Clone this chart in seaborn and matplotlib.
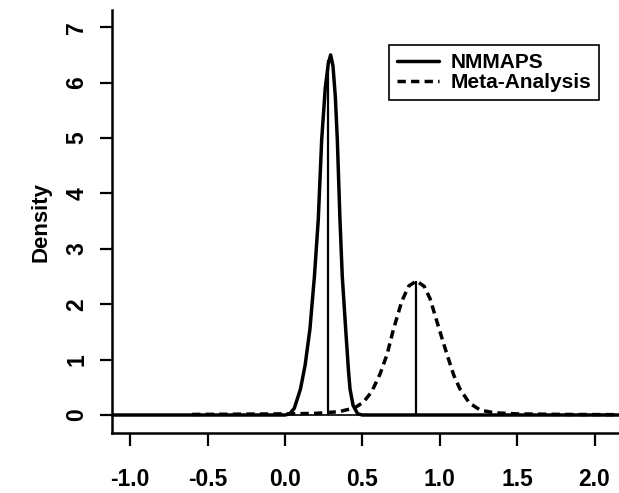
import numpy as np
import pandas as pd
import matplotlib
matplotlib.use("Agg")
import matplotlib.pyplot as plt
import seaborn as sns

# ---- data ----
nmmaps_x = [-1.2, -0.5, 0.0, 0.03, 0.06, 0.10, 0.13, 0.161, 0.19, 0.215, 0.237, 0.26, 0.28,
            0.295, 0.31, 0.325, 0.338, 0.355, 0.37, 0.392, 0.41, 0.42, 0.44, 0.47, 0.50, 1.0, 2.2]
nmmaps_y = [0.0, 0.0, 0.0, 0.02, 0.12, 0.47, 0.9, 1.55, 2.5, 3.53, 4.97, 5.9, 6.35,
            6.5, 6.3, 5.75, 4.97, 3.53, 2.5, 1.55, 0.8, 0.47, 0.17, 0.02, 0.0, 0.0, 0.0]

meta_x = [-0.6, -0.3, 0.0, 0.2, 0.35, 0.45, 0.506, 0.56, 0.614, 0.66, 0.70, 0.754, 0.80,
          0.85, 0.90, 0.937, 0.98, 1.02, 1.055, 1.09, 1.13, 1.19, 1.26, 1.35, 1.5, 1.8, 2.2]
meta_y = [0.01, 0.015, 0.02, 0.03, 0.06, 0.13, 0.23, 0.42, 0.74, 1.1, 1.54, 2.05, 2.33,
          2.42, 2.32, 2.1, 1.7, 1.33, 1.02, 0.72, 0.47, 0.22, 0.09, 0.04, 0.02, 0.01, 0.005]

means = [0.275, 0.848]
mean_heights = [6.4, 2.42]

series_names = ["NMMAPS", "Meta-Analysis"]
x_ticks = [-1.0, -0.5, 0.0, 0.5, 1.0, 1.5, 2.0]
x_tick_labels = ["-1.0", "-0.5", "0.0", "0.5", "1.0", "1.5", "2.0"]
y_ticks = [0, 1, 2, 3, 4, 5, 6, 7]
y_label = "Density"

df = pd.concat([
    pd.DataFrame({"x": nmmaps_x, "y": nmmaps_y, "series": series_names[0]}),
    pd.DataFrame({"x": meta_x, "y": meta_y, "series": series_names[1]}),
])

sns.set_style("ticks")
plt.rcParams["font.family"] = ["Liberation Sans", "DejaVu Sans"]
plt.rcParams["text.color"] = "black"
plt.rcParams["axes.labelcolor"] = "black"
plt.rcParams["xtick.color"] = "black"
plt.rcParams["ytick.color"] = "black"

fig = plt.figure(figsize=(6.19, 4.93), dpi=100)
ax = fig.add_axes([112 / 619, (493 - 433) / 493, 1 - 112 / 619, (433 - 10) / 493])

sns.lineplot(data=df[df.series == series_names[0]], x="x", y="y", ax=ax, color="black",
             linewidth=2.5, estimator=None, sort=False, label=series_names[0])
sns.lineplot(data=df[df.series == series_names[1]], x="x", y="y", ax=ax, color="black",
             linewidth=2.5, estimator=None, sort=False, label=series_names[1],
             linestyle=(0, (2.4, 1.5)))

ax.axhline(0, color="black", linewidth=1.2, zorder=1)
ax.vlines(means, 0, mean_heights, color="black", linewidth=1.6)

ax.set_xlim((112 - 285) / 154.8, (619 - 285) / 154.8)
ax.set_ylim((415 - 433) / 55.4, (415 - 10) / 55.4)

ax.set_xticks(x_ticks)
ax.set_xticklabels(x_tick_labels)
ax.set_yticks(y_ticks)
ax.set_yticklabels([str(v) for v in y_ticks], rotation=90, va="center")

for lab in ax.get_xticklabels() + ax.get_yticklabels():
    lab.set_fontweight("bold")
    lab.set_fontsize(16.5)
    lab.set_color("black")

ax.tick_params(axis="x", length=9, width=1.6, pad=16, colors="black")
ax.tick_params(axis="y", length=9, width=1.6, pad=8, colors="black")

ax.set_xlabel("")
ax.set_ylabel(y_label, fontsize=16, fontweight="bold", labelpad=10, color="black")

for side in ["top", "right"]:
    ax.spines[side].set_visible(False)
for side in ["left", "bottom"]:
    ax.spines[side].set_linewidth(1.8)
    ax.spines[side].set_color("black")

leg = ax.legend(loc="upper left", bbox_to_anchor=(0.546, 0.917), borderaxespad=0,
                frameon=True, fancybox=False, edgecolor="black", framealpha=1,
                prop={"size": 15, "weight": "bold"}, handlelength=2.0,
                handletextpad=0.55, labelspacing=0.02, borderpad=0.4)
leg.get_frame().set_linewidth(1.2)
for t in leg.get_texts():
    t.set_color("black")

fig.savefig("out.png", dpi=100)
